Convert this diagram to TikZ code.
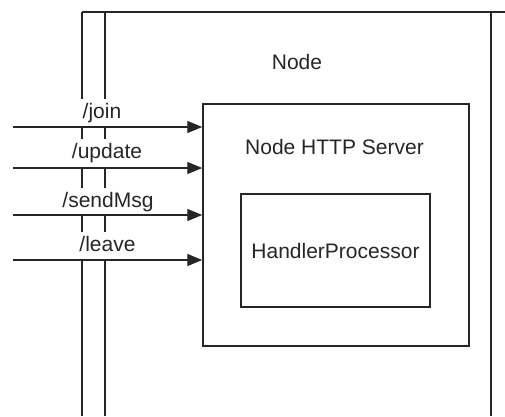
\documentclass[tikz,border=0pt]{standalone}
\usepackage{fontspec}
\setmainfont{Liberation Sans}
\usetikzlibrary{arrows.meta}

\tikzset{
  wire/.style={line width=1.4pt, draw=black!85},
  box/.style={draw=black!85, line width=1.5pt, fill=white, inner sep=0pt},
  caption/.style={font=\fontsize{21}{24}\selectfont, inner sep=0pt, anchor=base, text=black!85},
  msg/.style={font=\fontsize{21}{24}\selectfont, fill=white, anchor=base,
    text height=15pt, text depth=5pt, inner ysep=4pt, inner xsep=3pt, text=black!85},
  call/.style={wire, -{Triangle[length=15pt, width=12pt]}}
}

\begin{document}
\begin{tikzpicture}[x=1pt, y=-1pt]
  \useasboundingbox (0,0) rectangle (505,416);

  % outer frame of the node: top edge, double left wall, right wall
  \coordinate (tl) at (82,12);
  \coordinate (tr) at (505,12);
  \coordinate (bl) at (82,416);
  \coordinate (il) at (105,12);
  \coordinate (ib) at (105,416);
  \coordinate (rt) at (491,12);
  \coordinate (rb) at (491,416);
  \draw[wire] (tl) -- (tr);
  \draw[wire] (tl) -- (bl);
  \draw[wire] (il) -- (ib);
  \draw[wire] (rt) -- (rb);

  \node[caption] (nodecap) at (297,69) {Node};

  % HTTP server and its handler
  \node[box, minimum width=266pt, minimum height=242pt] (srv) at (336,225) {};
  \node[caption] (srvcap) at (334.5,154) {Node HTTP Server};
  \node[box, minimum width=189pt, minimum height=113pt,
        font=\fontsize{21}{24}\selectfont, text=black!85] (hp) at (335.5,250.5) {HandlerProcessor};

  % request labels sit on the wall and break it
  \node[msg] (ljoin)   at (102,118) {/join};
  \node[msg] (lupdate) at (107,158) {/update};
  \node[msg] (lsend)   at (108,207) {/sendMsg};
  \node[msg] (lleave)  at (107.5,251) {/leave};

  % incoming requests
  \coordinate (in1) at (13,127);
  \coordinate (in2) at (13,168);
  \coordinate (in3) at (13,215);
  \coordinate (in4) at (13,260);
  \draw[call] (in1) -- (in1 -| srv.west);
  \draw[call] (in2) -- (in2 -| srv.west);
  \draw[call] (in3) -- (in3 -| srv.west);
  \draw[call] (in4) -- (in4 -| srv.west);
\end{tikzpicture}
\end{document}
